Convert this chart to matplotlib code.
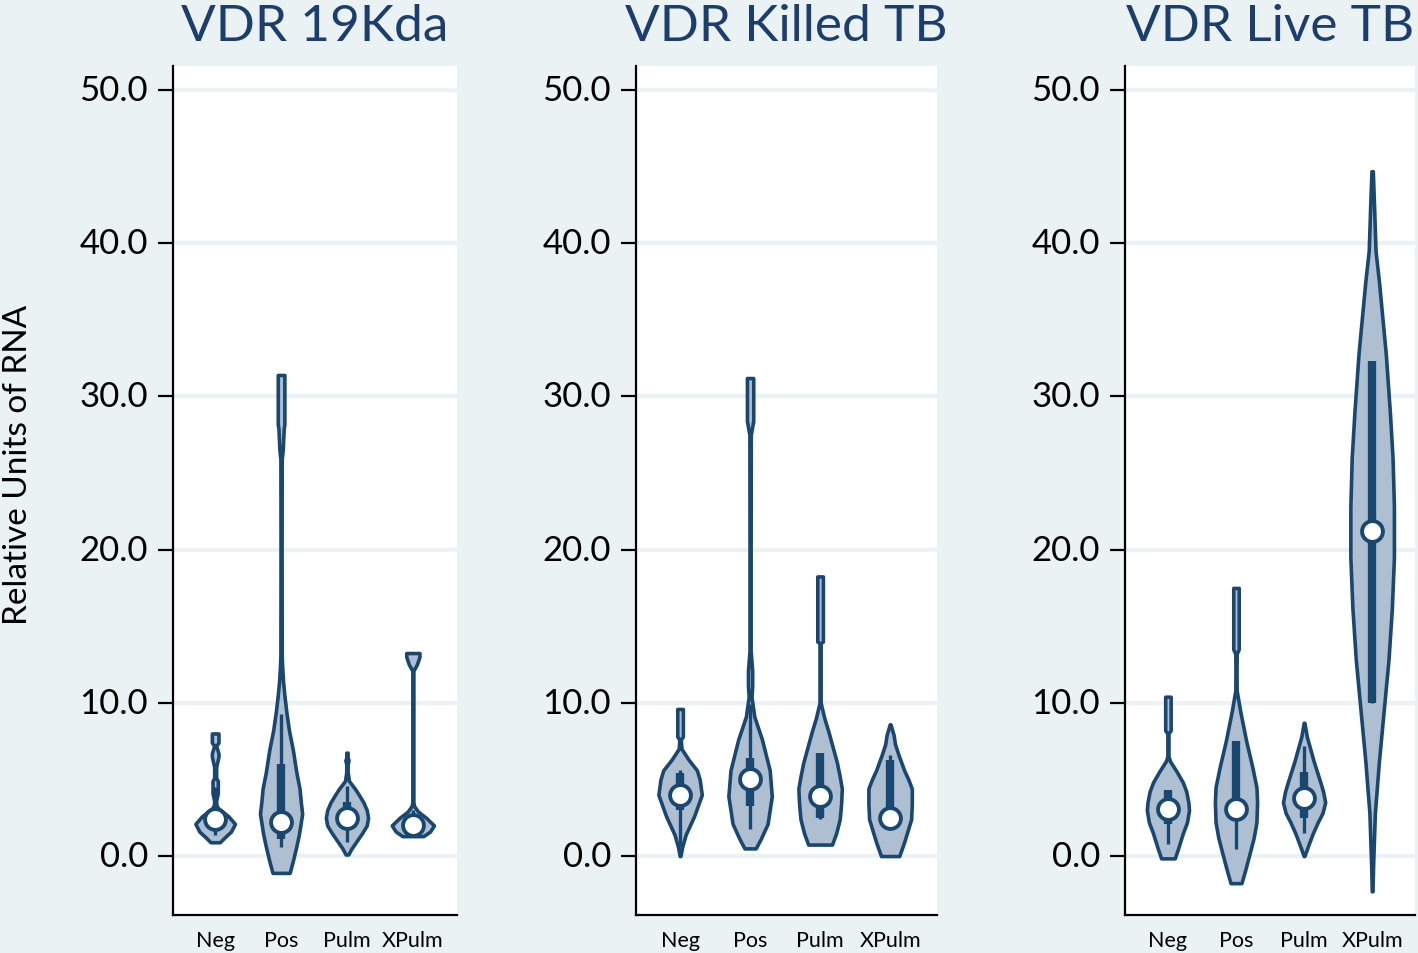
import matplotlib
matplotlib.use("Agg")
import matplotlib.pyplot as plt
import matplotlib.transforms as mtransforms

plt.rcParams['font.family'] = ['Lato', 'DejaVu Sans']

titles = ["VDR 19Kda", "VDR Killed TB", "VDR Live TB"]
groups = ["Neg", "Pos", "Pulm", "XPulm"]
yticks = [0.0, 10.0, 20.0, 30.0, 40.0, 50.0]

# violin outlines: y levels and half widths (in category units), per panel / group
kda_y = [
    [0.9, 1.2, 1.6, 2.1, 2.6, 3.1, 3.3, 3.6, 4.1, 4.9, 5.1, 5.8, 6.5, 6.7, 7.2, 7.4, 8.0],
    [-1.1, -0.3, 0.6, 1.4, 2.75, 3.5, 4.4, 5.5, 6.9, 8.2, 9.4, 10.5, 11.4, 12.5, 13.1, 20.0, 25.9, 26.5, 27.9, 28.2, 31.4],
    [0.1, 0.5, 1.0, 1.5, 2.0, 2.5, 3.0, 3.5, 4.0, 4.4, 4.9, 5.5, 6.0, 6.25, 6.4, 6.75],
    [1.3, 1.6, 2.0, 2.5, 2.9, 3.25, 3.5, 12.1, 12.5, 13.0, 13.25],
]
kda_w = [
    [0.07, 0.14, 0.24, 0.30, 0.20, 0.05, 0.02, 0.015, 0.04, 0.04, 0.015, 0.015, 0.05, 0.05, 0.015, 0.05, 0.05],
    [0.13, 0.18, 0.23, 0.27, 0.32, 0.30, 0.28, 0.23, 0.18, 0.12, 0.08, 0.05, 0.03, 0.015, 0.01, 0.008, 0.01, 0.025, 0.04, 0.05, 0.05],
    [0.02, 0.07, 0.15, 0.23, 0.30, 0.32, 0.30, 0.25, 0.18, 0.12, 0.03, 0.01, 0.01, 0.025, 0.01, 0.01],
    [0.16, 0.26, 0.32, 0.20, 0.08, 0.02, 0.008, 0.008, 0.06, 0.10, 0.10],
]
kda_med = [2.4, 2.25, 2.5, 2.0]
kda_q1 = [2.0, 1.1, 1.8, 1.7]
kda_q3 = [3.0, 6.0, 3.5, 2.5]
kda_lo = [1.4, 0.6, 0.9, 1.5]
kda_hi = [4.5, 9.25, 4.6, 3.0]

killed_y = [
    [0.0, 0.6, 1.4, 2.6, 4.0, 5.0, 5.6, 6.3, 7.0, 7.6, 7.8, 9.6],
    [0.5, 1.1, 2.1, 3.9, 5.6, 7.6, 9.1, 10.4, 11.1, 12.1, 13.4, 20.0, 27.5, 28.4, 31.2],
    [0.75, 1.5, 2.4, 3.4, 4.4, 5.2, 6.1, 7.1, 8.1, 9.0, 10.0, 13.9, 14.0, 18.25],
    [0.0, 0.9, 2.4, 3.4, 4.4, 5.0, 5.6, 6.6, 7.3, 7.9, 8.6],
]
killed_w = [
    [0.005, 0.03, 0.08, 0.20, 0.31, 0.28, 0.24, 0.12, 0.02, 0.01, 0.04, 0.04],
    [0.08, 0.15, 0.25, 0.31, 0.28, 0.17, 0.06, 0.02, 0.03, 0.03, 0.008, 0.008, 0.01, 0.045, 0.045],
    [0.17, 0.23, 0.28, 0.30, 0.31, 0.28, 0.24, 0.18, 0.12, 0.06, 0.008, 0.008, 0.04, 0.04],
    [0.13, 0.20, 0.30, 0.31, 0.31, 0.26, 0.20, 0.12, 0.07, 0.05, 0.005],
]
killed_med = [4.0, 5.0, 3.9, 2.5]
killed_q1 = [3.0, 3.25, 2.5, 2.2]
killed_q3 = [5.4, 6.4, 6.75, 6.25]
killed_lo = [0.6, 1.75, 2.4, 1.75]
killed_hi = [5.6, 9.9, 6.75, 6.6]

live_y = [
    [-0.15, 0.5, 1.5, 2.2, 3.0, 3.5, 4.2, 4.8, 5.5, 6.2, 6.5, 8.0, 8.2, 10.4],
    [-1.77, -1.0, 0.17, 1.2, 2.2, 3.5, 4.5, 5.8, 7.5, 9.5, 10.8, 12.0, 13.2, 13.5, 17.5],
    [0.0, 0.8, 1.5, 2.2, 2.8, 3.5, 4.2, 4.8, 5.5, 6.2, 7.0, 7.8, 8.7],
    [-2.3, -0.5, 2.8, 6.2, 9.5, 12.8, 16.2, 19.5, 22.8, 26.0, 29.0, 32.8, 37.5, 39.5, 42.2, 44.7],
]
live_w = [
    [0.10, 0.15, 0.22, 0.28, 0.31, 0.30, 0.27, 0.22, 0.13, 0.03, 0.008, 0.008, 0.04, 0.04],
    [0.08, 0.13, 0.20, 0.26, 0.30, 0.31, 0.30, 0.24, 0.15, 0.06, 0.01, 0.008, 0.01, 0.04, 0.04],
    [0.005, 0.07, 0.13, 0.20, 0.27, 0.31, 0.28, 0.24, 0.19, 0.14, 0.09, 0.04, 0.005],
    [0.005, 0.015, 0.04, 0.10, 0.17, 0.24, 0.29, 0.32, 0.32, 0.30, 0.26, 0.20, 0.10, 0.05, 0.03, 0.01],
]
live_med = [3.07, 3.07, 3.8, 21.2]
live_q1 = [2.1, 2.5, 2.5, 10.0]
live_q3 = [4.3, 7.5, 5.5, 32.3]
live_lo = [0.8, 0.43, 1.5, 10.0]
live_hi = [4.3, 7.5, 7.2, 32.3]

panels = [
    (kda_y, kda_w, kda_med, kda_q1, kda_q3, kda_lo, kda_hi),
    (killed_y, killed_w, killed_med, killed_q1, killed_q3, killed_lo, killed_hi),
    (live_y, live_w, live_med, live_q1, live_q3, live_lo, live_hi),
]

bg = '#EAF2F3'
navy = '#1A476F'
fill = '#AEBFD1'

fig = plt.figure(figsize=(14.18, 9.54), dpi=100, facecolor=bg)
boxes = [(0.122, 0.2003, (0.36, 4.67)),
         (0.4485, 0.2123, (0.37, 4.67)),
         (0.7934, 0.2045, (0.37, 4.63))]
shift = mtransforms.ScaledTranslation(0, -5 / 100, fig.dpi_scale_trans)

for k, (left, width, xl) in enumerate(boxes):
    ax = fig.add_axes([left, 0.0398, width, 0.890])
    vy, vw, med, q1, q3, lo, hi = panels[k]
    for i in range(4):
        x = i + 1
        xl_ = [x - w for w in vw[i]]
        xr_ = [x + w for w in vw[i]]
        ax.fill_betweenx(vy[i], xl_, xr_, facecolor=fill, edgecolor=navy,
                         linewidth=2.6, zorder=3)
        ax.plot([x, x], [lo[i], hi[i]], color=navy, lw=2.4, zorder=4,
                solid_capstyle='butt')
        ax.plot([x, x], [q1[i], q3[i]], color=navy, lw=6, zorder=4,
                solid_capstyle='butt')
        ax.plot([x], [med[i]], 'o', ms=15, mfc='white', mec=navy, mew=2.8,
                zorder=5)
    ax.set_xlim(*xl)
    ax.set_ylim(-3.85, 51.57)
    ax.set_yticks(yticks)
    ax.set_yticklabels(['%.1f' % t for t in yticks], fontsize=25, va='center')
    for lab in ax.get_yticklabels():
        lab.set_transform(lab.get_transform() + shift)
    ax.set_xticks([1, 2, 3, 4])
    ax.set_xticklabels(groups, fontsize=15.5)
    ax.tick_params(axis='x', length=0, pad=11)
    ax.tick_params(axis='y', length=11, width=1.6, pad=7)
    for y in yticks:
        ax.axhline(y, color=bg, lw=3, zorder=1)
    for s in ['top', 'right']:
        ax.spines[s].set_visible(False)
    for s in ['left', 'bottom']:
        ax.spines[s].set_linewidth(1.6)
    ax.set_title(titles[k], fontsize=37, color='#1C3E6E', pad=19)

fig.text(18 / 1418, 1 - 465 / 954, "Relative Units of RNA", rotation=90,
         fontsize=24, ha='center', va='center')

fig.savefig("out.png", dpi=100, facecolor=bg)
